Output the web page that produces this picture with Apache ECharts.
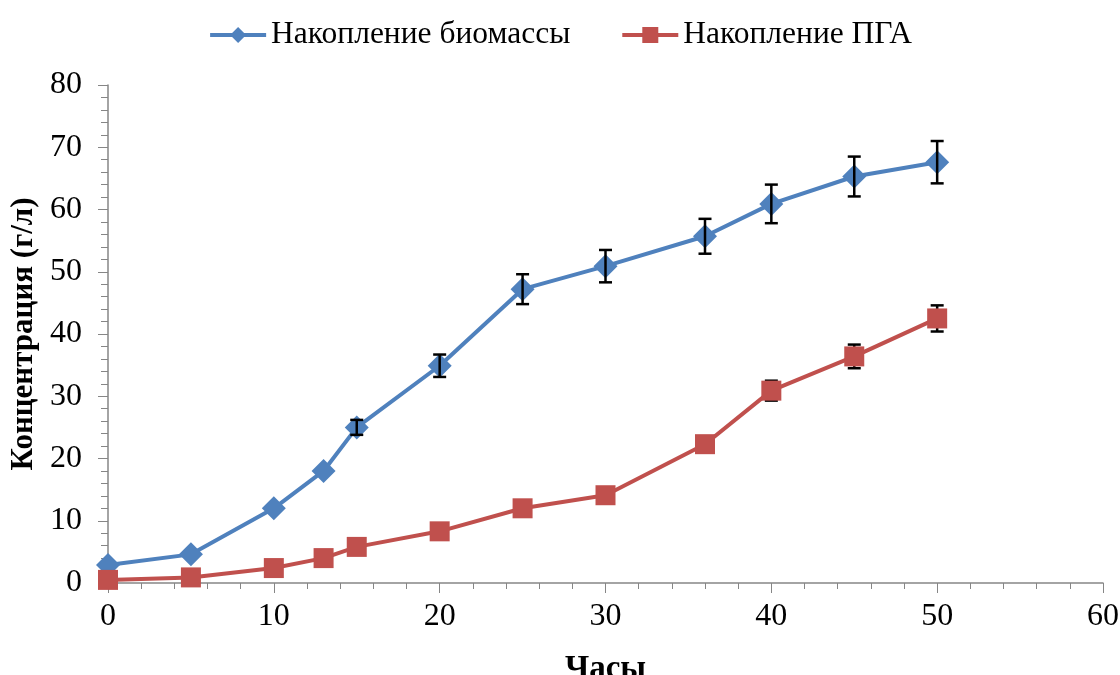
<!DOCTYPE html>
<html>
<head>
<meta charset="utf-8">
<script src="https://cdn.jsdelivr.net/npm/echarts@6/dist/echarts.min.js"></script>
<style>
  html, body { margin: 0; padding: 0; background: #fff; }
  #chart { width: 1120px; height: 675px; }
</style>
</head>
<body>
<div id="chart"></div>
<script>
// часы
const hours = [0, 5, 10, 13, 15, 20, 25, 30, 36, 40, 45, 50];
// накопление биомассы (г/л) и погрешность
const biomass = [2.9, 4.6, 12.0, 18.0, 25.0, 34.9, 47.2, 50.9, 55.7, 60.9, 65.3, 67.6];
const biomassErr = [0, 0, 0, 0, 1.2, 1.8, 2.4, 2.6, 2.8, 3.1, 3.2, 3.4];
// накопление ПГА (г/л) и погрешность
const pha = [0.5, 0.9, 2.4, 4.0, 5.8, 8.3, 12.0, 14.1, 22.3, 30.9, 36.4, 42.5];
const phaErr = [0, 0, 0, 0, 0, 0, 0, 0, 0, 1.6, 1.9, 2.1];

const blue = '#4F81BD';
const red = '#C0504D';
const font = '"Liberation Serif", "Times New Roman", serif';

const pairs = (ys) => hours.map((h, i) => [h, ys[i]]);
const errRows = (ys, es) => hours.map((h, i) => [h, ys[i] - es[i], ys[i] + es[i]]).filter((r, i) => es[i] > 0);

// отрисовка планок погрешностей
function errorBar(params, api) {
  const x = api.value(0);
  const lo = api.coord([x, api.value(1)]);
  const hi = api.coord([x, api.value(2)]);
  const cap = 6.5;
  const style = { stroke: '#000', lineWidth: 2.5 };
  return {
    type: 'group',
    children: [
      { type: 'line', shape: { x1: lo[0], y1: lo[1], x2: hi[0], y2: hi[1] }, style: style },
      { type: 'line', shape: { x1: lo[0] - cap, y1: lo[1], x2: lo[0] + cap, y2: lo[1] }, style: style },
      { type: 'line', shape: { x1: hi[0] - cap, y1: hi[1], x2: hi[0] + cap, y2: hi[1] }, style: style }
    ]
  };
}

const chart = echarts.init(document.getElementById('chart'));
chart.setOption({
  backgroundColor: '#fff',
  animation: false,
  textStyle: { fontFamily: font },
  legend: {
    top: 14,
    left: 'center',
    itemWidth: 56,
    itemHeight: 20,
    itemGap: 50,
    lineStyle: { width: 4 },
    textStyle: { fontFamily: font, fontSize: 31.5, color: '#000' },
    data: ['Накопление биомассы', 'Накопление ПГА']
  },
  grid: { left: 108, right: 17, top: 85, bottom: 92, outerBoundsMode: 'none', containLabel: false },
  xAxis: {
    type: 'value',
    min: 0,
    max: 60,
    interval: 10,
    name: 'Часы',
    nameLocation: 'middle',
    nameGap: 70,
    nameTextStyle: { fontFamily: font, fontSize: 33, fontWeight: 'bold', color: '#000' },
    axisLine: { lineStyle: { color: '#868686', width: 1.5 } },
    axisTick: { show: true, length: 10, lineStyle: { color: '#868686' } },
    minorTick: { show: true, splitNumber: 5, length: 6, lineStyle: { color: '#868686' } },
    axisLabel: { fontFamily: font, fontSize: 32, color: '#000', margin: 18 },
    splitLine: { show: false }
  },
  yAxis: {
    type: 'value',
    min: 0,
    max: 80,
    interval: 10,
    name: 'Концентрация (г/л)',
    nameLocation: 'middle',
    nameGap: 66,
    nameTextStyle: { fontFamily: font, fontSize: 31, fontWeight: 'bold', color: '#000' },
    axisLine: { show: true, lineStyle: { color: '#868686', width: 1.5 } },
    axisTick: { show: true, length: 10, lineStyle: { color: '#868686' } },
    minorTick: { show: true, splitNumber: 5, length: 7, lineStyle: { color: '#868686' } },
    axisLabel: { fontFamily: font, fontSize: 32, color: '#000', margin: 26 },
    splitLine: { show: false }
  },
  series: [
    {
      name: 'Накопление биомассы',
      type: 'line',
      data: pairs(biomass),
      symbol: 'diamond',
      symbolSize: 24,
      itemStyle: { color: blue },
      lineStyle: { color: blue, width: 4 },
      z: 3
    },
    {
      name: 'Накопление ПГА',
      type: 'line',
      data: pairs(pha),
      symbol: 'rect',
      symbolSize: 20,
      itemStyle: { color: red },
      lineStyle: { color: red, width: 4 },
      z: 3
    },
    {
      type: 'custom',
      renderItem: errorBar,
      data: errRows(biomass, biomassErr),
      encode: { x: 0, y: [1, 2] },
      z: 4,
      silent: true
    },
    {
      type: 'custom',
      renderItem: errorBar,
      data: errRows(pha, phaErr),
      encode: { x: 0, y: [1, 2] },
      z: 2,
      silent: true
    }
  ]
});
</script>
</body>
</html>
